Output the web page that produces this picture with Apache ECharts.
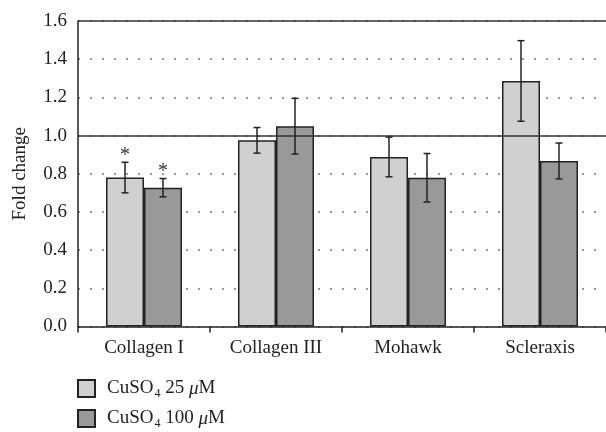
<!DOCTYPE html>
<html>
<head>
<meta charset="utf-8">
<script src="https://cdn.jsdelivr.net/npm/echarts@6/dist/echarts.min.js"></script>
<style>html,body{margin:0;padding:0;background:#fff}#c{width:606px;height:432px}</style>
</head>
<body>
<div id="c"></div>
<script>
const categories = ['Collagen I', 'Collagen III', 'Mohawk', 'Scleraxis'];
const seriesNames = ['CuSO4 25 μM', 'CuSO4 100 μM'];
const values25 = [0.78, 0.975, 0.888, 1.286];
const errors25 = [0.08, 0.067, 0.104, 0.211];
const values100 = [0.727, 1.049, 0.779, 0.867];
const errors100 = [0.048, 0.146, 0.127, 0.094];
const sig25 = [1, 0, 0, 0];
const sig100 = [1, 0, 0, 0];
const yTicks = [0, 0.2, 0.4, 0.6, 0.8, 1.0, 1.2, 1.4, 1.6];

const FONT = '"Liberation Serif", "DejaVu Serif", serif';
const FS = 19;
const chart = echarts.init(document.getElementById('c'), null, {renderer: 'canvas'});
const BAR_W = 38;

function errSeries(name, vals, errs, sig, side) {
  return {
    type: 'custom',
    name: name + '_err',
    z: 5,
    silent: true,
    encode: {x: 0, y: 1},
    data: vals.map((v, i) => [i, v, errs[i], sig[i]]),
    renderItem: function (params, api) {
      const cat = api.value(0), v = api.value(1), e = api.value(2), s = api.value(3);
      const c = api.coord([cat, v]);
      const x = c[0] + side * BAR_W / 2;
      const yt = api.coord([cat, v + e])[1];
      const yb = api.coord([cat, v - e])[1];
      const st = {stroke: '#222', lineWidth: 1.5};
      const ch = [
        {type: 'line', shape: {x1: x, y1: yt, x2: x, y2: yb}, style: st},
        {type: 'line', shape: {x1: x - 3.5, y1: yt, x2: x + 3.5, y2: yt}, style: st},
        {type: 'line', shape: {x1: x - 3.5, y1: yb, x2: x + 3.5, y2: yb}, style: st}
      ];
      if (s) {
        ch.push({type: 'text', style: {text: '*', x: x, y: yt + 3, align: 'center', verticalAlign: 'bottom',
          font: '20px ' + FONT, fill: '#333'}});
      }
      return {type: 'group', children: ch};
    }
  };
}

function makeLegend(name, top) {
  return {
    orient: 'vertical',
    left: 77, top: top,
    padding: 0,
    itemWidth: 17, itemHeight: 17,
    icon: 'rect',
    data: [name],
    textStyle: {
      color: '#222', fontFamily: FONT, fontSize: FS,
      rich: {
        p: {fontFamily: FONT, fontSize: FS, color: '#222', padding: [0, 0, 0, 7]},
        t: {fontFamily: FONT, fontSize: FS, color: '#222'},
        sub: {fontFamily: FONT, fontSize: 12, color: '#222', padding: [10, 0, 0, 1]},
        it: {fontFamily: FONT, fontSize: FS, fontStyle: 'italic', color: '#222'}
      }
    },
    formatter: function (n) {
      const m = n.match(/^CuSO4 (\d+) μM$/);
      return '{p|CuSO}{sub|4}{t| ' + m[1] + ' }{it|μ}{t|M}';
    }
  };
}

const option = {
  animation: false,
  backgroundColor: '#fff',
  grid: {left: 78, top: 21, width: 532, height: 305.5, containLabel: false},
  xAxis: {
    type: 'category',
    data: categories,
    axisLine: {lineStyle: {color: '#222', width: 1.5}},
    axisTick: {show: true, length: 6, lineStyle: {color: '#222', width: 1.5}},
    axisLabel: {color: '#222', fontFamily: FONT, fontSize: FS, margin: 12},
    splitLine: {show: false}
  },
  yAxis: {
    type: 'value',
    min: 0, max: 1.6, interval: 0.2,
    name: 'Fold change',
    nameLocation: 'middle',
    nameGap: 48,
    nameRotate: 90,
    nameTextStyle: {color: '#222', fontFamily: FONT, fontSize: FS},
    axisLine: {show: true, lineStyle: {color: '#222', width: 1.5}},
    axisTick: {show: false},
    axisLabel: {color: '#222', fontFamily: FONT, fontSize: FS, margin: 11,
      formatter: v => v.toFixed(1)},
    splitLine: {show: true, lineStyle: {type: [2, 10], color: '#777', width: 1.5}}
  },
  legend: [makeLegend(seriesNames[0], 379), makeLegend(seriesNames[1], 409)],
  series: [
    {
      type: 'bar', name: seriesNames[0], data: values25,
      barWidth: BAR_W, barGap: '0%',
      itemStyle: {color: '#d0d0d0', borderColor: '#222', borderWidth: 1.5},
      markLine: {
        silent: true, symbol: 'none', label: {show: false},
        lineStyle: {type: 'solid', color: '#333', width: 1.5},
        data: [{yAxis: 1.0}, {yAxis: 1.6}]
      }
    },
    {
      type: 'bar', name: seriesNames[1], data: values100,
      barWidth: BAR_W, barGap: '0%',
      itemStyle: {color: '#999999', borderColor: '#222', borderWidth: 1.5}
    },
    errSeries(seriesNames[0], values25, errors25, sig25, -1),
    errSeries(seriesNames[1], values100, errors100, sig100, 1)
  ]
};
chart.setOption(option);
</script>
</body>
</html>
